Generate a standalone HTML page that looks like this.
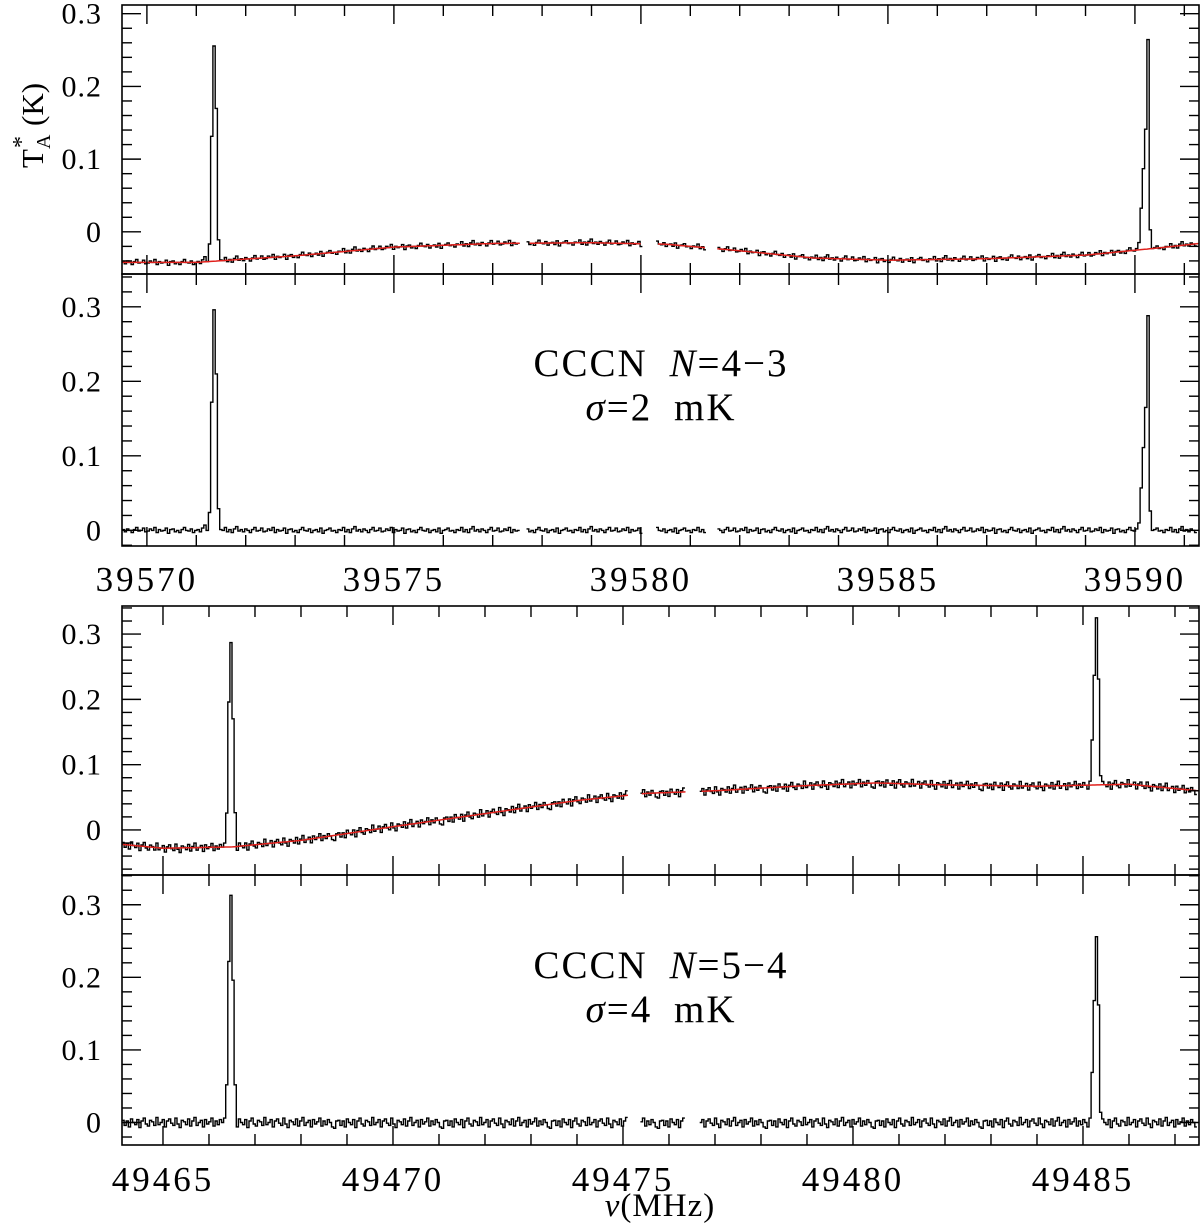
<!DOCTYPE html>
<html><head><meta charset="utf-8"><style>
html,body{margin:0;padding:0;background:#fff}
svg{display:block}
text{font-family:"Liberation Serif",serif;fill:#000}
</style></head><body>
<svg id="chart" width="1200" height="1224" viewBox="0 0 1200 1224" xmlns="http://www.w3.org/2000/svg">
<g id="layer"></g>
<text x="661" y="376" font-size="39" text-anchor="middle" letter-spacing="2" word-spacing="10">CCCN <tspan font-style="italic">N</tspan>=4−3</text>
<text x="661" y="420" font-size="39" text-anchor="middle" letter-spacing="2" word-spacing="10"><tspan font-style="italic">σ</tspan>=2 mK</text>
<text x="661" y="978" font-size="39" text-anchor="middle" letter-spacing="2" word-spacing="10">CCCN <tspan font-style="italic">N</tspan>=5−4</text>
<text x="661" y="1022" font-size="39" text-anchor="middle" letter-spacing="2" word-spacing="10"><tspan font-style="italic">σ</tspan>=4 mK</text>
<g transform="translate(43,168) rotate(-90)">
<text x="0" y="0" font-size="31">T</text>
<text x="19" y="7" font-size="20">A</text>
<text x="20" y="-14" font-size="24">*</text>
<text x="42" y="0" font-size="31">(K)</text>
</g>
<text x="660" y="1216" font-size="33" text-anchor="middle" letter-spacing="1"><tspan font-style="italic">ν</tspan>(MHz)</text>
</svg>
<script>
// ---------- data ----------
const set1Range = [39569.496, 39591.297];
const set2Range = [49464.109, 49487.522];
const set1XTicks = [39570, 39575, 39580, 39585, 39590];
const set2XTicks = [49465, 49470, 49475, 49480, 49485];
const yTickLabels = ["0", "0.1", "0.2", "0.3"];
const yTickValues = [0, 0.1, 0.2, 0.3];
// baselines (freq, K)
const set1BaseFreq = [39569.5, 39571, 39573, 39575, 39577, 39579, 39580.5, 39582, 39583.5, 39585, 39587, 39589, 39590.5, 39591.3];
const set1BaseVal = [-0.042, -0.042, -0.033, -0.021, -0.016, -0.015, -0.017, -0.026, -0.036, -0.039, -0.037, -0.032, -0.022, -0.016];
const set2BaseFreq = [49464.1, 49465, 49466.5, 49468, 49470, 49472, 49474, 49475.5, 49477, 49479, 49480.5, 49482, 49484, 49486, 49487.5];
const set2BaseVal = [-0.022, -0.028, -0.026, -0.016, 0.005, 0.025, 0.045, 0.056, 0.060, 0.068, 0.072, 0.069, 0.067, 0.070, 0.060];
// lines: start frequency and channel heights above baseline (K)
const set1LineStart = [39571.14, 39590.07];
const set1LineProfiles = [[0.011, 0.0, 0.023, 0.169, 0.297, 0.21, 0.032], [0.013, 0.057, 0.11, 0.167, 0.285, 0.03]];
const set2LineStart = [49466.34, 49485.11];
const set2LineProfiles = [[0.012, 0.06, 0.22, 0.31, 0.2, 0.05], [0.014, 0.067, 0.165, 0.26, 0.16, 0.02]];
// gaps (no data)
const set1Gaps = [[39577.56, 39577.70], [39580.02, 39580.32], [39581.32, 39581.54]];
const set2Gaps = [[49475.11, 49475.38], [49476.36, 49476.66]];
// channel noise in mK (cycled)
const set1Noise = [1,-2,2,0,-3,1,4,-1,0,3,-2,-1,2,0,4,-3,1,-1,0,3,-4,1,2,-2,0,-3,1,4,0,-1,2,-3,0,1,-2,3,-4,0,1,3,-1,0,-3,1,0,4,-2,1,-3,2,5,-1];
const set2Noise = [3,-4,2,-6,5,0,-3,4,-7,2,6,-2,-5,3,1,-4,7,-3,0,4,-6,2,5,-1,-4,6,-2,-7,3,1,-3,5,-5,2,7,-4,0,3,-6,4,-2,1,6,-5,2,-3,4,0,-6,-8,2];
const channelWidth = 0.046;

// ---------- layout ----------
const panels = [
  {name:'panel-n43-raw', top:5, bottom:274, ymin:-0.058, ymax:0.312, set:1, withBase:true},
  {name:'panel-n43-residual', top:274, bottom:546, ymin:-0.021, ymax:0.344, set:1, withBase:false},
  {name:'panel-n54-raw', top:606, bottom:875, ymin:-0.069, ymax:0.343, set:2, withBase:true},
  {name:'panel-n54-residual', top:875, bottom:1145, ymin:-0.031, ymax:0.341, set:2, withBase:false}
];
const XL = 122, XR = 1199;
const NS = 'http://www.w3.org/2000/svg';
const layer = document.getElementById('layer');
function mk(tag, attrs, parent){const e=document.createElementNS(NS,tag);for(const k in attrs)e.setAttribute(k,attrs[k]);(parent||layer).appendChild(e);return e;}
function xScale(set){const r=set===1?set1Range:set2Range;return f=>XL+(f-r[0])/(r[1]-r[0])*(XR-XL);}
function yScale(p){return v=>p.top+(p.ymax-v)/(p.ymax-p.ymin)*(p.bottom-p.top);}
function interp(fs,vs,f){if(f<=fs[0])return vs[0];for(let i=1;i<fs.length;i++){if(f<=fs[i]){const t=(f-fs[i-1])/(fs[i]-fs[i-1]);return vs[i-1]+t*(vs[i]-vs[i-1]);}}return vs[vs.length-1];}

panels.forEach(p=>{
  const X=xScale(p.set), Y=yScale(p);
  const g=mk('g',{});
  
  
  const range=p.set===1?set1Range:set2Range;
  const bf=p.set===1?set1BaseFreq:set2BaseFreq, bv=p.set===1?set1BaseVal:set2BaseVal;
  const ls=p.set===1?set1LineStart:set2LineStart, lp=p.set===1?set1LineProfiles:set2LineProfiles;
  const gaps=p.set===1?set1Gaps:set2Gaps, noise=p.set===1?set1Noise:set2Noise;
  const inGap=f=>gaps.some(gp=>f>gp[0]&&f<gp[1]);
  const lineIdx=ls.map(s=>Math.round((s-range[0])/channelWidth));
  // spectrum
  const n=Math.floor((range[1]-range[0])/channelWidth);
  let d='', open=false;
  for(let i=0;i<n;i++){
    const f0=range[0]+i*channelWidth, f1=f0+channelWidth, fc=f0+channelWidth/2;
    if(inGap(fc)){open=false;continue;}
    let v=noise[i%noise.length]/1000;
    if(p.withBase) v+=interp(bf,bv,fc);
    lineIdx.forEach((li0,li)=>{const k=i-li0;if(k>=0&&k<lp[li].length)v+=lp[li][k];});
    const y=Y(v).toFixed(1), xa=X(f0).toFixed(1), xb=Math.min(X(f1),XR).toFixed(1);
    if(!open){d+='M'+xa+','+y+'H'+xb;open=true;}
    else{d+='V'+y+'H'+xb;}
  }
  const sp=mk('path',{d:d,fill:'none',stroke:'#000','stroke-width':1.4},g);
  
  
  if(p.withBase){
    let bd='', bopen=false;
    for(let f=range[0];f<=range[1];f+=0.05){
      if(inGap(f)){bopen=false;continue;}
      bd+=(bopen?'L':'M')+X(f).toFixed(1)+','+Y(interp(bf,bv,f)).toFixed(1);bopen=true;
    }
    const bl=mk('path',{d:bd,fill:'none',stroke:'#e0201c','stroke-width':1.5},g);
    
    
  }
  // frame
  const fr=mk('rect',{x:XL,y:p.top,width:XR-XL,height:p.bottom-p.top,fill:'none',stroke:'#000','stroke-width':1.6},g);
  
  
  // y ticks
  for(let k=Math.ceil(p.ymin/0.02-1e-6);k*0.02<=p.ymax+1e-9;k++){
    const v=k*0.02, y=Y(v), major=(k%5===0), L=major?19:10;
    mk('line',{x1:XL,x2:XL+L,y1:y,y2:y,stroke:'#000','stroke-width':1.4},g);
    mk('line',{x1:XR,x2:XR-L,y1:y,y2:y,stroke:'#000','stroke-width':1.4},g);
  }
  yTickValues.forEach((v,i)=>{
    if(v<p.ymin||v>p.ymax)return;
    const t=mk('text',{x:102,y:Y(v)+10,'font-size':30,'text-anchor':'end','letter-spacing':'1'},g);
    
    
    t.textContent=yTickLabels[i];
  });
  // x ticks
  for(let f=Math.ceil(range[0]);f<=range[1];f++){
    const x=X(f), major=(f%5===0), L=major?19:11;
    mk('line',{x1:x,x2:x,y1:p.top,y2:p.top+L,stroke:'#000','stroke-width':1.4},g);
    mk('line',{x1:x,x2:x,y1:p.bottom,y2:p.bottom-L,stroke:'#000','stroke-width':1.4},g);
  }
});
// x tick labels
[[set1XTicks,1,591],[set2XTicks,2,1191]].forEach(([ticks,set,y])=>{
  const X=xScale(set);
  ticks.forEach(f=>{
    const t=mk('text',{x:X(f),y:y,'font-size':35,'text-anchor':'middle','letter-spacing':'3'});
    
    
    t.textContent=String(f);
  });
});
</script>
</body></html>
